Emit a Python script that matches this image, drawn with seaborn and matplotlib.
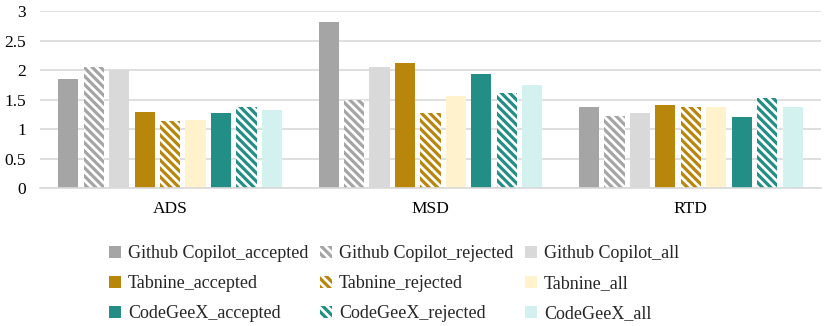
import matplotlib
matplotlib.use("Agg")
import matplotlib.pyplot as plt
import seaborn as sns
import pandas as pd
from matplotlib.patches import Patch

datasets = ["ADS", "MSD", "RTD"]
series = ["Github Copilot_accepted", "Github Copilot_rejected", "Github Copilot_all",
          "Tabnine_accepted", "Tabnine_rejected", "Tabnine_all",
          "CodeGeeX_accepted", "CodeGeeX_rejected", "CodeGeeX_all"]
copilot_accepted = [1.85, 2.81, 1.38]
copilot_rejected = [2.06, 1.50, 1.23]
copilot_all = [2.00, 2.06, 1.28]
tabnine_accepted = [1.29, 2.12, 1.41]
tabnine_rejected = [1.13, 1.27, 1.37]
tabnine_all = [1.15, 1.56, 1.37]
codegeex_accepted = [1.27, 1.94, 1.21]
codegeex_rejected = [1.37, 1.61, 1.53]
codegeex_all = [1.32, 1.75, 1.37]
values = [copilot_accepted, copilot_rejected, copilot_all,
          tabnine_accepted, tabnine_rejected, tabnine_all,
          codegeex_accepted, codegeex_rejected, codegeex_all]
colors = ["#a5a5a5", "#a5a5a5", "#d9d9d9",
          "#b8860b", "#b8860b", "#fff2cc",
          "#238e86", "#238e86", "#d3f1ef"]
hatched = [False, True, False, False, True, False, False, True, False]
HATCH = "\\" * 4

rows = []
for s, vals in zip(series, values):
    for d, v in zip(datasets, vals):
        rows.append({"dataset": d, "series": s, "value": v})
df = pd.DataFrame(rows)

sns.set_style("white")
plt.rcParams["font.family"] = ["Liberation Serif", "DejaVu Serif"]
plt.rcParams["hatch.linewidth"] = 2.3

fig = plt.figure(figsize=(8.31, 3.26), dpi=100)
ax = fig.add_axes([0.048, 0.423, 0.940, 0.543])

sns.barplot(data=df, x="dataset", y="value", hue="series", hue_order=series,
            order=datasets, palette=colors, saturation=1, width=0.88, gap=0.21,
            legend=False, ax=ax, linewidth=0)

for cont, col, h in zip(ax.containers, colors, hatched):
    for bar in cont:
        bar.set_linewidth(0)
        bar.set_edgecolor(col)
        if h:
            bar.set_facecolor("white")
            bar.set_hatch(HATCH)

ax.set_ylim(0, 3)
ax.set_yticks([0, 0.5, 1, 1.5, 2, 2.5, 3])
ax.set_yticklabels(["0", "0.5", "1", "1.5", "2", "2.5", "3"])
ax.yaxis.grid(True, color="#d9d9d9", linewidth=1.2)
ax.set_axisbelow(True)
for sp in ["top", "right", "left"]:
    ax.spines[sp].set_visible(False)
ax.spines["bottom"].set_color("#d9d9d9")
ax.spines["bottom"].set_linewidth(1.2)
ax.tick_params(axis="both", length=0, labelsize=12.5, colors="black")
ax.tick_params(axis="x", pad=9)
ax.tick_params(axis="y", pad=10)
ax.set_xlabel("")
ax.set_ylabel("")
ax.set_xlim(-0.5, 2.5)

handles = []
for col, h in zip(colors, hatched):
    if h:
        handles.append(Patch(facecolor="white", edgecolor=col, hatch=HATCH, linewidth=0))
    else:
        handles.append(Patch(facecolor=col, edgecolor=col, linewidth=0))
order = [0, 3, 6, 1, 4, 7, 2, 5, 8]
leg = fig.legend([handles[i] for i in order], [series[i] for i in order],
                 ncol=3, loc="upper left", bbox_to_anchor=(0.131, 0.247),
                 frameon=False, fontsize=13, handlelength=0.67, handleheight=0.67,
                 handletextpad=0.4, columnspacing=0.62, labelspacing=0.72,
                 borderpad=0, borderaxespad=0)

fig.savefig("out.png", dpi=100)
